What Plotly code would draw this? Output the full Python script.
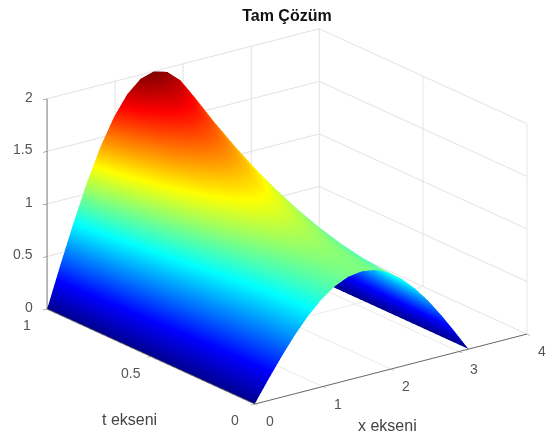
import plotly.graph_objects as go

title_text = "Tam Çözüm"
x_label = "x ekseni"
t_label = "t ekseni"
x_ticks = [0, 1, 2, 3, 4]
t_ticks = [0, 0.5, 1]
z_ticks = [0, 0.5, 1, 1.5, 2]

x_values = [0, 0.196, 0.393, 0.589, 0.785, 0.982, 1.178, 1.374, 1.571,
            1.767, 1.963, 2.160, 2.356, 2.553, 2.749, 2.945, 3.142]
t_values = [0, 0.1, 0.2, 0.3, 0.4, 0.5, 0.6, 0.7, 0.8, 0.9, 1.0]
z_values = [
    [0, .195, .383, .556, .707, .831, .924, .981, 1, .981, .924, .831, .707, .556, .383, .195, 0],
    [0, .197, .387, .562, .714, .839, .933, .991, 1.01, .991, .933, .839, .714, .562, .387, .197, 0],
    [0, .203, .398, .578, .735, .864, .961, 1.02, 1.04, 1.02, .961, .864, .735, .578, .398, .203, 0],
    [0, .213, .417, .606, .771, .906, 1.007, 1.069, 1.09, 1.069, 1.007, .906, .771, .606, .417, .213, 0],
    [0, .226, .444, .645, .820, .964, 1.072, 1.138, 1.16, 1.138, 1.072, .964, .820, .645, .444, .226, 0],
    [0, .244, .479, .695, .884, 1.039, 1.155, 1.226, 1.25, 1.226, 1.155, 1.039, .884, .695, .479, .244, 0],
    [0, .265, .521, .756, .962, 1.130, 1.257, 1.334, 1.36, 1.334, 1.257, 1.130, .962, .756, .521, .265, 0],
    [0, .291, .571, .828, 1.053, 1.238, 1.377, 1.462, 1.49, 1.462, 1.377, 1.238, 1.053, .828, .571, .291, 0],
    [0, .320, .628, .912, 1.159, 1.363, 1.515, 1.609, 1.64, 1.609, 1.515, 1.363, 1.159, .912, .628, .320, 0],
    [0, .353, .693, 1.006, 1.280, 1.504, 1.672, 1.776, 1.81, 1.776, 1.672, 1.504, 1.280, 1.006, .693, .353, 0],
    [0, .390, .765, 1.111, 1.414, 1.663, 1.848, 1.962, 2, 1.962, 1.848, 1.663, 1.414, 1.111, .765, .390, 0],
]

jet = [[0, "rgb(0,0,143)"], [0.125, "rgb(0,0,255)"], [0.375, "rgb(0,255,255)"],
       [0.625, "rgb(255,255,0)"], [0.875, "rgb(255,0,0)"], [1, "rgb(128,0,0)"]]

fig = go.Figure(go.Surface(
    x=x_values, y=t_values, z=z_values,
    colorscale=jet, cmin=0, cmax=2, showscale=False,
    lighting=dict(ambient=1, diffuse=0, specular=0, fresnel=0, roughness=1),
    hoverinfo="skip",
))

def axis(ticks, rng):
    return dict(
        title=dict(text=""),
        tickmode="array", tickvals=ticks, showticklabels=False,
        range=rng, autorange=False,
        showgrid=True, gridcolor="#e2e2e2", gridwidth=2,
        showbackground=False, zeroline=False,
        showline=True, linecolor="#666666", linewidth=2,
        ticks="outside", ticklen=5, tickcolor="#666666", tickwidth=1,
        showspikes=False,
    )

def label(text, px, py):
    return dict(text=text, x=px / 555, y=1 - py / 439, xref="paper", yref="paper",
                xanchor="center", yanchor="middle", showarrow=False,
                font=dict(family="Liberation Sans", size=16, color="#444444"))

tick_font = dict(family="Liberation Sans", size=14, color="#555555")
tick_notes = []
for v in x_ticks:
    tick_notes.append(dict(x=v, y=0, z=0, text=str(v), showarrow=False, xanchor="center", yanchor="middle",
                           xshift=15, yshift=-17, font=tick_font))
for v in t_ticks:
    tick_notes.append(dict(x=0, y=v, z=0, text=str(v), showarrow=False, xanchor="center", yanchor="middle",
                           xshift=-20, yshift=-16, font=tick_font))
for v in z_ticks:
    tick_notes.append(dict(x=0, y=1, z=v, text=str(v), showarrow=False, xanchor="right", yanchor="middle",
                           xshift=-12, yshift=2, font=tick_font))

fig.update_layout(
    width=555, height=439,
    paper_bgcolor="white",
    margin=dict(l=0, r=0, t=0, b=0),
    title=dict(text="<b>" + title_text + "</b>", x=0.517, xanchor="center", y=0.966, yanchor="middle",
               font=dict(family="Liberation Sans", size=16, color="#111111")),
    annotations=[label(x_label, 387, 425), label(t_label, 129, 419)],
    scene=dict(
        domain=dict(x=[0.034, 1.0], y=[0.0, 1.0]),
        xaxis=axis(x_ticks, [0, 4]),
        yaxis=axis(t_ticks, [0, 1]),
        zaxis=axis(z_ticks, [0, 2]),
        annotations=tick_notes,
        aspectmode="manual", aspectratio=dict(x=1.55, y=1.577, z=1.02),
        camera=dict(projection=dict(type="orthographic"),
                    up=dict(x=0, y=0, z=1), center=dict(x=0, y=0, z=-0.015),
                    eye=dict(x=-1.142, y=-1.523, z=0.68)),
    ),
)
fig.write_html("out.html", post_script="document.body.style.margin='0';",
               config=dict(displayModeBar=False))
